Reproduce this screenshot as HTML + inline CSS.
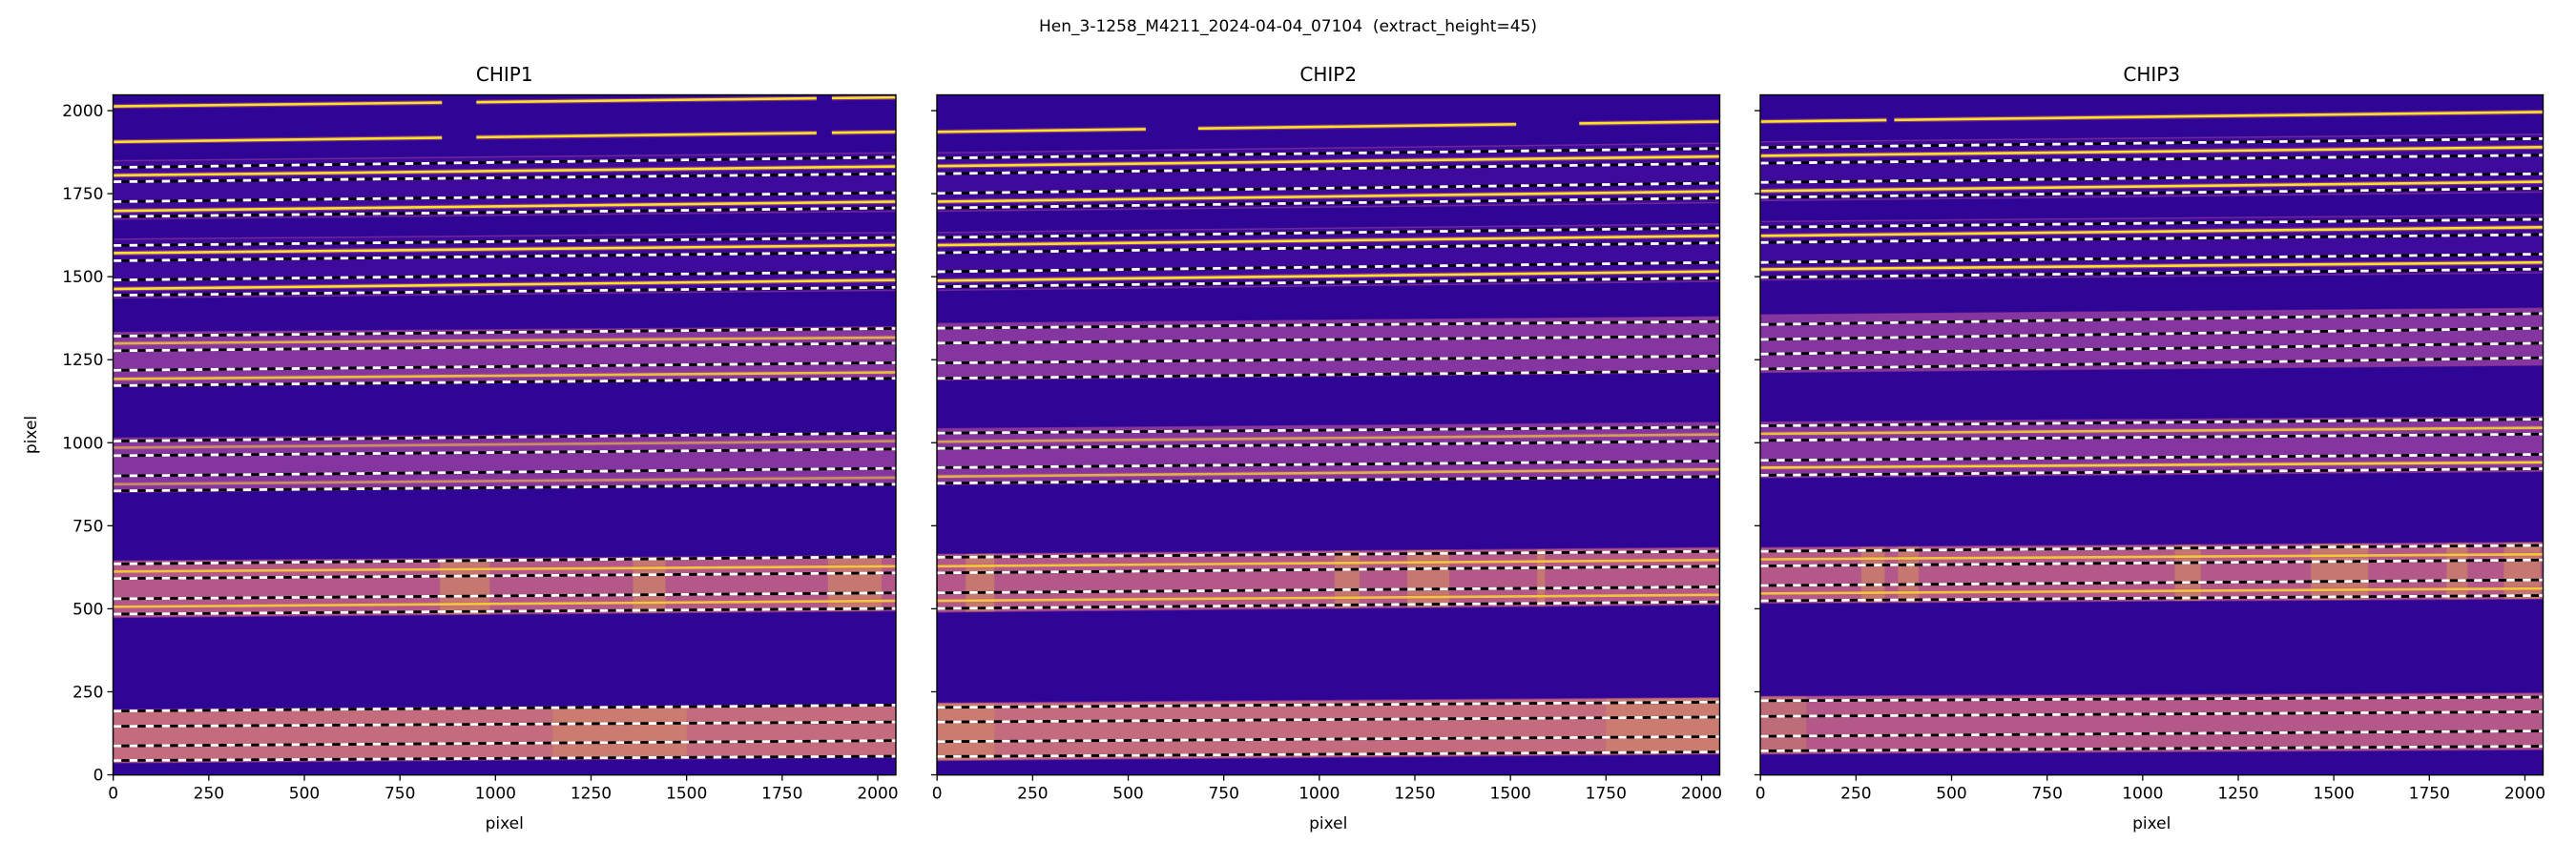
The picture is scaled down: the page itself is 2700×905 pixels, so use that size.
<!DOCTYPE html>
<html><head><meta charset="utf-8"><style>
body{margin:0;background:#fff;width:2700px;height:900px;overflow:hidden;font-family:"Liberation Sans","DejaVu Sans",sans-serif}
svg text{font-family:"DejaVu Sans","Liberation Sans",sans-serif;fill:#000;white-space:pre}
</style></head><body>
<svg id="fig" width="2700" height="900" viewBox="0 0 2700 900" xmlns="http://www.w3.org/2000/svg">
<text x="1350" y="33" font-size="17" text-anchor="middle" xml:space="preserve">Hen_3-1258_M4211_2024-04-04_07104  (extract_height=45)</text>
</svg>
<script>
// ticks
const xTicks = [0,250,500,750,1000,1250,1500,1750,2000];
const yTicks = [0,250,500,750,1000,1250,1500,1750,2000];
const chipTitles = ["CHIP1","CHIP2","CHIP3"];
// bands: [bottomLeft, bottomRight, topLeft, topRight, kind]
const chip1Bands = [[1673,1697,1849,1873,0],[1436,1459,1613,1633,0],[1169,1192,1332,1349,1],[851,875,1014,1031,1],[474,494,644,660,2],[36,53,196,212,3]];
const chip2Bands = [[1697,1723,1873,1902,0],[1459,1486,1633,1659,0],[1189,1212,1359,1379,1],[874,895,1042,1061,1],[490,513,664,684,2],[43,63,216,232,3]];
const chip3Bands = [[1729,1755,1906,1929,0],[1490,1512,1666,1686,0],[1212,1234,1385,1405,1],[895,914,1062,1078,1],[517,530,684,700,2],[63,76,236,246,2]];
// dashed trace lines: [left, right]
const chip1Traces = [[1829,1860],[1786,1810],[1726,1753],[1681,1707],[1594,1618],[1548,1574],[1490,1515],[1444,1468],[1321,1344],[1277,1300],[1218,1241],[1172,1194],[1005,1029],[961,981],[900,923],[855,875],[635,657],[591,608],[530,548],[484,501],[192,210],[146,159],[87,103],[43,56]];
const chip2Traces = [[1857,1886],[1810,1841],[1751,1782],[1707,1737],[1618,1647],[1572,1602],[1515,1543],[1470,1496],[1345,1365],[1300,1321],[1240,1261],[1194,1216],[1029,1047],[983,1005],[925,945],[878,898],[655,673],[608,628],[548,566],[501,521],[203,219],[159,174],[100,115],[55,69]];
const chip3Traces = [[1889,1916],[1842,1866],[1784,1810],[1739,1766],[1649,1673],[1603,1627],[1543,1568],[1498,1523],[1356,1389],[1311,1345],[1267,1300],[1222,1256],[1051,1071],[1007,1026],[947,965],[902,922],[673,691],[629,647],[570,587],[524,540],[223,234],[176,190],[116,132],[72,86]];
// bright emission lines: [left, right, strength]
const chip1Lines = [[2013,2040,1],[1906,1936,1],[1805,1832,1],[1698,1726,1],[1571,1595,1],[1463,1490,1],[1299,1317,0.7],[1192,1212,0.8],[985,1005,0.5],[875,895,0.5],[612,628,0.8],[506,524,0.8]];
const chip2Lines = [[1936,1967,1],[1833,1862,1],[1726,1757,1],[1595,1623,1],[1488,1516,1],[1003,1025,0.6],[898,920,0.7],[628,647,0.8],[524,542,0.8]];
const chip3Lines = [[1967,1996,1],[1864,1890,1],[1758,1786,1],[1623,1649,1],[1522,1543,1],[1027,1045,0.8],[925,941,0.9],[649,664,0.8],[546,561,0.8]];
// gaps in emission lines: [lineIndex, start, end]
const chip1Gaps = [[0,860,950],[1,860,950],[0,1840,1880],[1,1840,1880]];
const chip2Gaps = [[0,546,683],[0,1515,1680]];
const chip3Gaps = [[0,330,350]];
// bright vertical stripes: [bandIndex, start, end]
const chip1Stripes = [[4,855,985],[4,1360,1445],[4,1870,2010],[5,1150,1500]];
const chip2Stripes = [[4,75,150],[4,1040,1105],[4,1230,1340],[4,1570,1590],[5,0,150],[5,1750,2048]];
const chip3Stripes = [[4,264,325],[4,360,414],[4,1084,1152],[4,1440,1590],[4,1795,1850],[4,1945,2040],[5,0,120]];

const NS="http://www.w3.org/2000/svg";
const svg=document.getElementById('fig');
const axLefts=[118.5,982,1845], axW=820.5, axTop=99.5, axBot=812.7;
const axH=axBot-axTop;
function mk(tag,attrs,parent){const e=document.createElementNS(NS,tag);for(const k in attrs)e.setAttribute(k,attrs[k]);(parent||svg).appendChild(e);return e;}
function xs(c,d){return axLefts[c]+(d+0.5)/2048*axW;}
function ys(v){return axBot-(v+0.5)/2048*axH;}
function yAt(l,r,d){return l+(r-l)*d/2048;}
const bandFill=["#3e0a9c","#84359f","#b4588a","#c46c7e"];

const allBands=[chip1Bands,chip2Bands,chip3Bands];
const allTraces=[chip1Traces,chip2Traces,chip3Traces];
const allLines=[chip1Lines,chip2Lines,chip3Lines];
const allGaps=[chip1Gaps,chip2Gaps,chip3Gaps];
const allStripes=[chip1Stripes,chip2Stripes,chip3Stripes];

const defs=mk('defs',{});

for(let c=0;c<3;c++){
  const L=axLefts[c];
  const cp=mk('clipPath',{id:'clip'+c},defs);
  mk('rect',{x:L,y:axTop,width:axW,height:axH},cp);
  const g=mk('g',{'clip-path':'url(#clip'+c+')'});
  
  
  const bg=mk('rect',{x:L,y:axTop,width:axW,height:axH,fill:'#2f0595'},g);
  
  
  allBands[c].forEach((b,i)=>{
    const p=mk('polygon',{points:`${xs(c,0)},${ys(b[0])} ${xs(c,2048)},${ys(b[1])} ${xs(c,2048)},${ys(b[3])} ${xs(c,0)},${ys(b[2])}`,fill:bandFill[b[4]],stroke:'#9a3a98','stroke-width':1.5,'stroke-opacity':0.6},g);
    
    
  });
  allStripes[c].forEach(s=>{
    const b=allBands[c][s[0]];
    const x0=s[1],x1=s[2];
    const p=mk('polygon',{points:`${xs(c,x0)},${ys(yAt(b[0],b[1],x0))} ${xs(c,x1)},${ys(yAt(b[0],b[1],x1))} ${xs(c,x1)},${ys(yAt(b[2],b[3],x1))} ${xs(c,x0)},${ys(yAt(b[2],b[3],x0))}`,fill:'#e0a848','fill-opacity':s[0]===5?0.25:0.4},g);
    
    
  });
  allLines[c].forEach((l,li)=>{
    const gaps=allGaps[c].filter(q=>q[0]===li).sort((a,b)=>a[1]-b[1]);
    const segs=[];let s0=0;
    gaps.forEach(q=>{segs.push([s0,q[1]]);s0=q[2];});
    segs.push([s0,2048]);
    segs.forEach(sg=>{
      const a={x1:xs(c,sg[0]),y1:ys(yAt(l[0],l[1],sg[0])),x2:xs(c,sg[1]),y2:ys(yAt(l[0],l[1],sg[1]))};
      const h=mk('line',Object.assign({stroke:'#d0508a','stroke-width':5,'stroke-opacity':0.5*l[2]},a),g);
      
      
      const ln=mk('line',Object.assign({stroke:'#f5e526','stroke-width':2.6,'stroke-opacity':l[2]},a),g);
      
      
    });
  });
  allTraces[c].forEach(t=>{
    const a={x1:xs(c,0),y1:ys(t[0]),x2:xs(c,2048),y2:ys(t[1])};
    const k=mk('line',Object.assign({stroke:'#000','stroke-width':2.8},a),g);
    
    
    const w=mk('line',Object.assign({stroke:'#fff','stroke-width':2.8,'stroke-dasharray':'8.5 8.5'},a),g);
    
    
  });
  const fr=mk('rect',{x:L,y:axTop,width:axW,height:axH,fill:'none',stroke:'#000','stroke-width':1.4});
  
  
  const tt=mk('text',{x:L+axW/2,y:85,'font-size':20,'text-anchor':'middle'});
  tt.textContent=chipTitles[c];
  
  
  xTicks.forEach(v=>{
    const x=xs(c,v);
    const tk=mk('line',{x1:x,y1:axBot,x2:x,y2:axBot+6,stroke:'#000','stroke-width':1.3});
    
    
    const tl=mk('text',{x:x,y:axBot+25,'font-size':17,'text-anchor':'middle'});
    tl.textContent=v;
    
    
  });
  yTicks.forEach(v=>{
    const y=ys(v);
    const tk=mk('line',{x1:L-6,y1:y,x2:L,y2:y,stroke:'#000','stroke-width':1.3});
    
    
    if(c===0){
      const tl=mk('text',{x:L-10,y:y+6,'font-size':17,'text-anchor':'end'});
      tl.textContent=v;
      
      
    }
  });
  const xl=mk('text',{x:L+axW/2,y:869,'font-size':17,'text-anchor':'middle'});
  xl.textContent='pixel';
  
  
}
const yl=mk('text',{x:0,y:0,'font-size':17,'text-anchor':'middle',transform:'translate(38,456) rotate(-90)'});
yl.textContent='pixel';


</script>
</body></html>
